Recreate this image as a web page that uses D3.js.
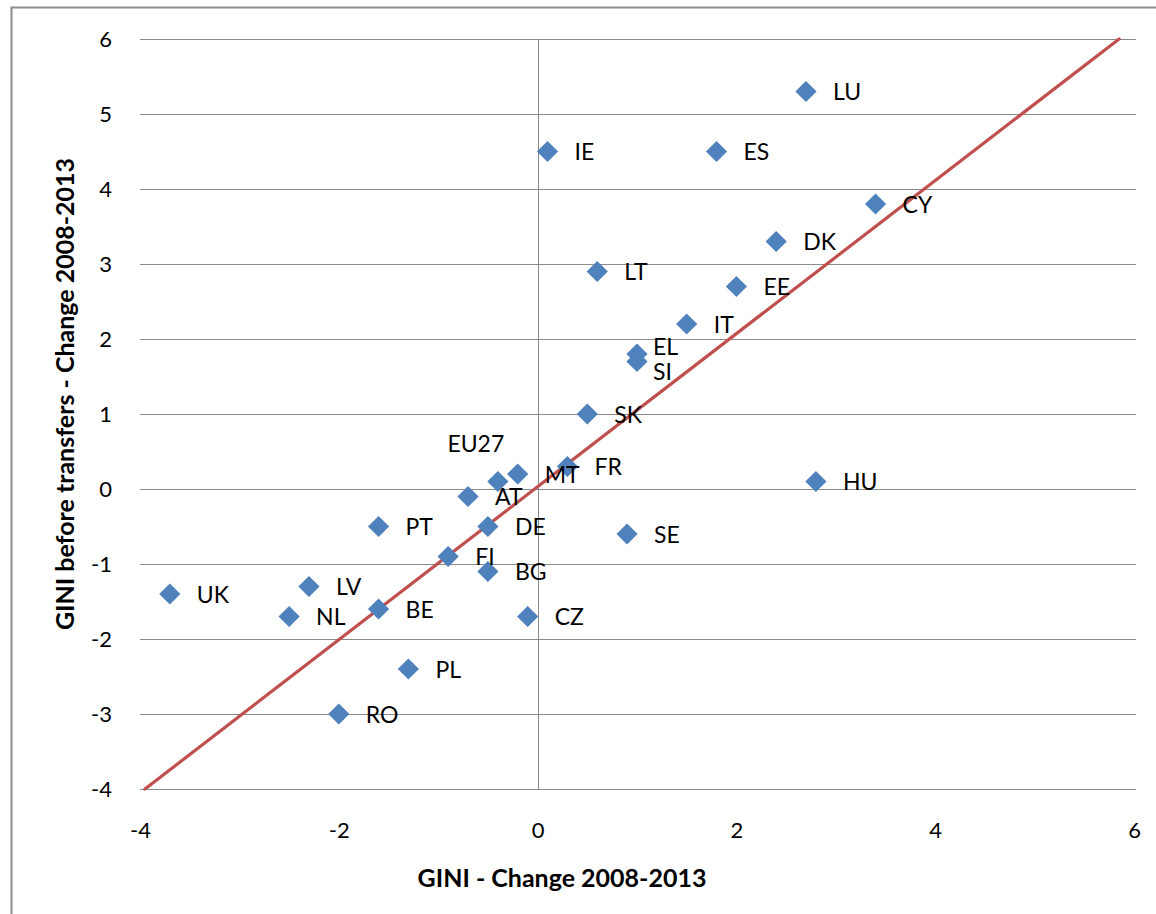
<!DOCTYPE html>
<html>
<head>
<meta charset="utf-8">
<script src="https://cdn.jsdelivr.net/npm/d3@7"></script>
<style>
  html, body { margin: 0; padding: 0; background: #fff; }
  svg text { font-family: Lato, "Open Sans", sans-serif; fill: #000; }
</style>
</head>
<body>
<svg id="chart" width="1156" height="914"></svg>
<script>
// ---- data ----
const countries = ["LU","IE","ES","CY","DK","LT","EE","IT","EL","SI","SK","FR","MT","EU27","HU","AT","PT","DE","SE","FI","BG","UK","LV","NL","BE","CZ","PL","RO"];
const giniChange = [2.7,0.1,1.8,3.4,2.4,0.6,2.0,1.5,1.0,1.0,0.5,0.3,-0.2,-0.4,2.8,-0.7,-1.6,-0.5,0.9,-0.9,-0.5,-3.7,-2.3,-2.5,-1.6,-0.1,-1.3,-2.0];
const giniBeforeChange = [5.3,4.5,4.5,3.8,3.3,2.9,2.7,2.2,1.8,1.7,1.0,0.3,0.2,0.1,0.1,-0.1,-0.5,-0.5,-0.6,-0.9,-1.1,-1.4,-1.3,-1.7,-1.6,-1.7,-2.4,-3.0];
const trendX = [-3.95, 5.85];
const trendY = [-4, 6];
const xTicks = [-4,-2,0,2,4,6];
const yTicks = [-4,-3,-2,-1,0,1,2,3,4,5,6];
const xTitle = "GINI - Change 2008-2013";
const yTitle = "GINI before transfers - Change 2008-2013";

// label nudges (pixels) for manually placed labels
const labelNudge = { "EU27": [-49, -38, "middle"], "EL": [-11, -8], "SI": [-11, 10] };

const svg = d3.select("#chart");
const W = 1156, H = 914;

// chart frame
svg.append("rect").attr("x", 11.5).attr("y", 7.5).attr("width", W + 20).attr("height", H + 20)
  .attr("fill", "#fff").attr("stroke", "#8c8c8c").attr("stroke-width", 2);

const x = d3.scaleLinear().domain([-4, 6]).range([140, 1134]);
const y = d3.scaleLinear().domain([-4, 6]).range([789, 39]);

// horizontal gridlines
svg.append("g").selectAll("line").data(yTicks).join("line")
  .attr("x1", x(-4)).attr("x2", x(6) + 2)
  .attr("y1", d => Math.round(y(d)) + 0.5).attr("y2", d => Math.round(y(d)) + 0.5)
  .attr("stroke", "#8a8a8a").attr("stroke-width", 1);

// vertical axis line at x = 0
svg.append("line")
  .attr("x1", Math.round(x(0)) + 0.5).attr("x2", Math.round(x(0)) + 0.5)
  .attr("y1", y(6)).attr("y2", y(-4))
  .attr("stroke", "#8a8a8a").attr("stroke-width", 1);

const fmt = d => String(d);

// y tick labels
const yAxis = d3.axisLeft(y).tickValues(yTicks).tickSize(0).tickPadding(0).tickFormat(fmt);
const gy = svg.append("g").attr("transform", `translate(${x(-4) - 28},0)`).call(yAxis);
gy.select(".domain").remove();
gy.selectAll("text").attr("font-size", 22).attr("dy", "0.36em").style("font-family", "Lato, sans-serif");

// x tick labels
const xAxis = d3.axisBottom(x).tickValues(xTicks).tickSize(0).tickPadding(0).tickFormat(fmt);
const gx = svg.append("g").attr("transform", `translate(0,${y(-4) + 41})`).call(xAxis);
gx.select(".domain").remove();
gx.selectAll("text").attr("font-size", 22).attr("dy", "0.36em").style("font-family", "Lato, sans-serif");

// trend line
svg.append("line")
  .attr("x1", x(trendX[0])).attr("y1", y(trendY[0]))
  .attr("x2", x(trendX[1])).attr("y2", y(trendY[1]))
  .attr("stroke", "#C0504D").attr("stroke-width", 3.2).attr("stroke-linecap", "round");

// points
const pts = countries.map((c, i) => ({ c, gx: giniChange[i], gy: giniBeforeChange[i] }));
const diamond = d3.symbol().type(d3.symbolSquare).size(225);
svg.append("g").selectAll("path").data(pts).join("path")
  .attr("d", diamond)
  .attr("transform", d => `translate(${x(d.gx)},${y(d.gy)}) rotate(45)`)
  .attr("fill", "#4F81BD");

// labels
svg.append("g").selectAll("text").data(pts).join("text")
  .attr("x", d => x(d.gx) + 27 + (labelNudge[d.c] ? labelNudge[d.c][0] : 0))
  .attr("y", d => y(d.gy) + (labelNudge[d.c] ? labelNudge[d.c][1] : 0))
  .attr("dy", "0.38em")
  .attr("text-anchor", d => (labelNudge[d.c] && labelNudge[d.c][2]) ? labelNudge[d.c][2] : "start")
  .attr("font-size", 23)
  .text(d => d.c);

// axis titles
svg.append("text").attr("x", 562).attr("y", 878).attr("dy", "0.36em")
  .attr("text-anchor", "middle").attr("font-size", 25).attr("font-weight", "bold").text(xTitle);
svg.append("text").attr("transform", `translate(65,394) rotate(-90)`)
  .attr("dy", "0.36em").attr("text-anchor", "middle").attr("font-size", 25).attr("font-weight", "bold").text(yTitle);
</script>
</body>
</html>
